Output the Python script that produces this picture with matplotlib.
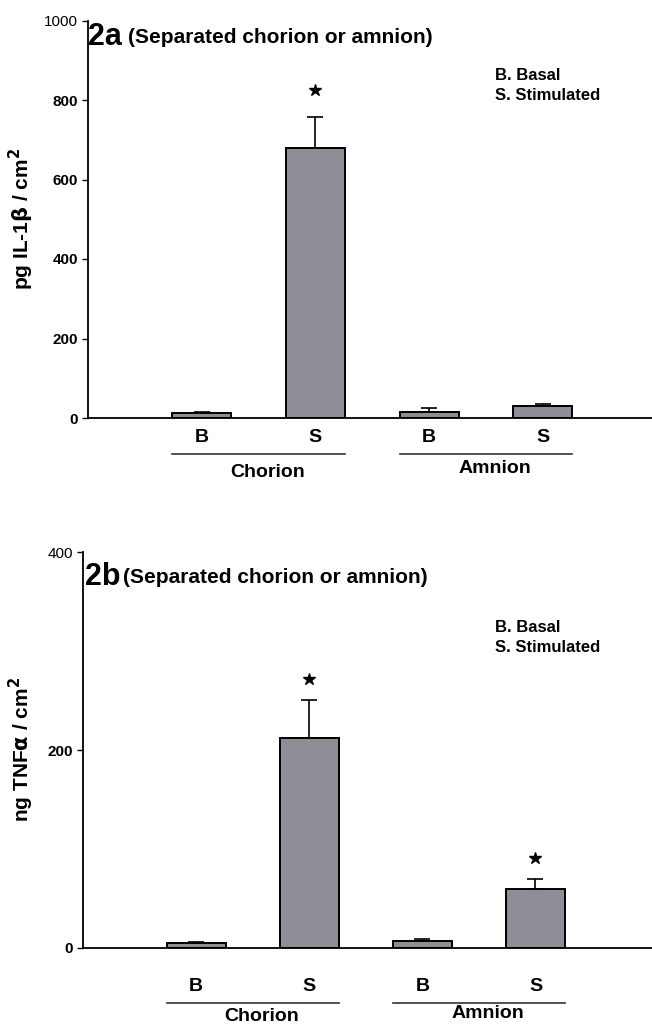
import matplotlib.pyplot as plt
from matplotlib.transforms import offset_copy

plt.rcParams['font.family'] = ['Liberation Sans', 'DejaVu Sans']
plt.rcParams['font.weight'] = 'bold'

conditions = ['B', 'S', 'B', 'S']
groups = ['Chorion', 'Amnion']

# 2a: IL-1beta release
il1b_mean = [12, 680, 16, 30]
il1b_err = [3, 78, 8, 5]
il1b_sig = [False, True, False, False]

# 2b: TNF-alpha release
tnfa_mean = [5, 212, 7, 59]
tnfa_err = [1, 39, 2, 10]
tnfa_sig = [False, True, False, True]

BAR_COLOR = '#8f8d96'
W = 0.52

fig = plt.figure(figsize=(6.52, 10.26), dpi=100)
ax_a = fig.add_axes([88 / 652, 1 - 418 / 1026, 1 - 88 / 652, (418 - 20.5) / 1026])
ax_b = fig.add_axes([83 / 652, 1 - 947.7 / 1026, 1 - 83 / 652, (947.7 - 552.3) / 1026])


def draw_panel(ax, means, errs, sig, ymax, yticks, ylabel, tag, xmax, offs):
    x = [1, 2, 3, 4]
    ax.bar(x, means, width=W, color=BAR_COLOR, edgecolor='black', linewidth=1.4, zorder=2)
    ax.errorbar(x, means, yerr=[[0] * 4, errs], fmt='none', ecolor='black',
                elinewidth=1.2, capsize=6, capthick=1.2, zorder=1)
    star_tr = offset_copy(ax.transData, fig=fig, y=offs['star'], units='dots')
    for xi, m, e, s in zip(x, means, errs, sig):
        if s:
            ax.plot(xi, m + e, marker='*', color='black', markersize=9, transform=star_tr, clip_on=False)

    ax.set_xlim(0, xmax)
    ax.set_ylim(0, ymax)
    ax.set_yticks(yticks)
    ax.set_yticklabels([str(t) for t in yticks])
    ax.tick_params(axis='y', direction='out', length=4, width=1.0, labelsize=11, pad=3)
    ax.get_yticklabels()[-1].set_fontweight('normal')
    ax.set_xticks([])
    for side in ['top', 'right']:
        ax.spines[side].set_visible(False)
    ax.spines['left'].set_linewidth(1.3)
    ax.spines['bottom'].set_linewidth(1.3)
    ax.set_ylabel(ylabel, fontsize=15, fontweight='bold')
    ax.yaxis.set_label_coords(offs['ylab'], 0.5)

    # condition letters under each bar
    for xi, c in zip(x, conditions):
        ax.annotate(c, xy=(xi, 0), xytext=(0, offs['cond']), textcoords='offset pixels',
                    ha='center', va='baseline', fontsize=14, fontweight='bold', annotation_clip=False)

    # group underline and name
    line_tr = offset_copy(ax.transData, fig=fig, y=offs['line'], units='dots')
    for gi, g in enumerate(groups):
        x0 = x[2 * gi] - W / 2
        x1 = x[2 * gi + 1] + W / 2
        ax.plot([x0, x1], [0, 0], color='#333333', linewidth=1.2, transform=line_tr, clip_on=False)
        ax.annotate(g, xy=((x0 + x1) / 2 + 0.08, 0), xytext=(0, offs['group'][gi]),
                    textcoords='offset pixels', ha='center', va='baseline',
                    fontsize=14, fontweight='bold', annotation_clip=False)

    # panel title
    ax.annotate(tag, xy=(0, 1), xycoords='axes fraction', xytext=(offs['tag_x'], offs['tag_y']),
                textcoords='offset pixels', ha='left', va='baseline', fontsize=22, fontweight='bold')
    ax.annotate('(Separated chorion or amnion)', xy=(0, 1), xycoords='axes fraction',
                xytext=(40, offs['tag_y'] + 2), textcoords='offset pixels',
                ha='left', va='baseline', fontsize=15, fontweight='bold')

    # key
    ax.annotate('B. Basal', xy=(0, 1), xycoords='axes fraction', xytext=(495 - offs['x0'], offs['key']),
                textcoords='offset pixels', ha='left', va='baseline', fontsize=12, fontweight='bold')
    ax.annotate('S. Stimulated', xy=(0, 1), xycoords='axes fraction',
                xytext=(495 - offs['x0'], offs['key'] - 20),
                textcoords='offset pixels', ha='left', va='baseline', fontsize=12, fontweight='bold')


draw_panel(ax_a, il1b_mean, il1b_err, il1b_sig, 1000, [0, 200, 400, 600, 800, 1000],
           r'pg IL-1$\mathbf{\beta}$ / cm$^\mathbf{2}$', '2a', 4.96,
           dict(star=27, cond=-24, line=-36, group=[-59, -55], tag_x=0, tag_y=-24.5,
                key=-59.5, x0=88, ylab=-0.092))
draw_panel(ax_b, tnfa_mean, tnfa_err, tnfa_sig, 400, [0, 200, 400],
           r'ng TNF$\mathbf{\alpha}$ / cm$^\mathbf{2}$', '2b', 5.03,
           dict(star=21, cond=-43, line=-55, group=[-73, -70], tag_x=2, tag_y=-33,
                key=-79.5, x0=83, ylab=-0.082))

fig.savefig('out.png', dpi=100)
